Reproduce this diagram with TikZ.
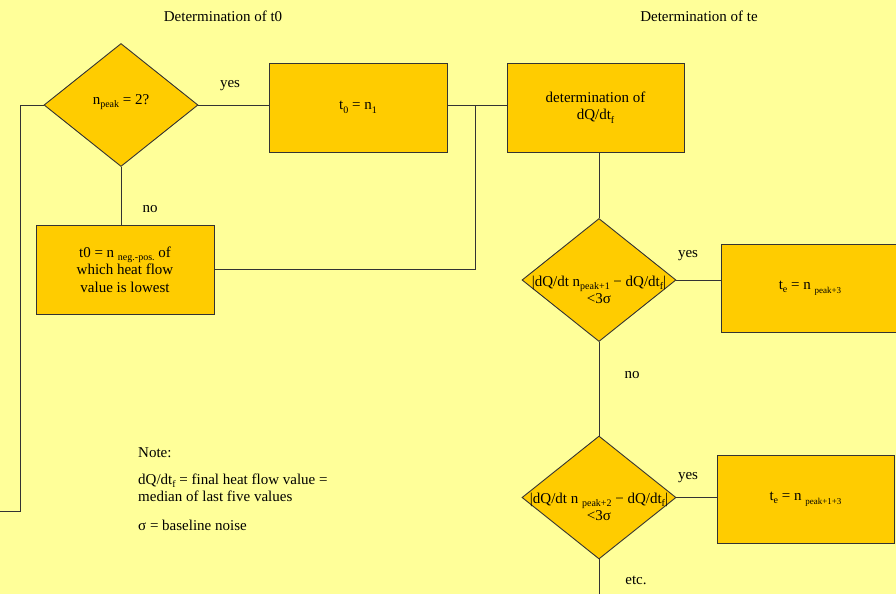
\documentclass[tikz,border=0pt]{standalone}
\usepackage{fontspec}
\setmainfont{Liberation Serif}
\usetikzlibrary{shapes.geometric}
\definecolor{bg}{HTML}{FFFF99}
\definecolor{boxfill}{HTML}{FFCC00}
\definecolor{ln}{HTML}{333333}
\newcommand\lo[1]{\raisebox{-3.5pt}{\fontsize{10}{10}\selectfont #1}}
\newcommand\los[1]{\raisebox{-4pt}{\fontsize{9}{9}\selectfont #1}}
\begin{document}
\begin{tikzpicture}[x=1pt,y=-1pt,
  every node/.style={font=\fontsize{15}{17.5}\selectfont, text=black},
  box/.style={draw=ln, line width=0.9pt, fill=boxfill, minimum width=178pt, minimum height=89pt, inner sep=2pt, align=center},
  dia/.style={diamond, draw=ln, line width=0.9pt, fill=boxfill, minimum width=154pt, minimum height=123pt, inner sep=0pt},
  lbl/.style={inner sep=0pt, align=center},
  conn/.style={draw=ln, line width=0.9pt}]
\fill[bg] (0,0) rectangle (896,594);
\useasboundingbox (0,0) rectangle (896,594);
% titles
\node[lbl] (t1) at (223,16) {Determination of t0};
\node[lbl] (t2) at (699,16) {Determination of te};
% shapes
\node[dia] (d1) at (121,105) {};
\node[lbl] (d1t) at (121,102) {n\lo{peak} = 2?};
\node[box] (b1) at (358,107.5) {t\lo{0} = n\lo{1}};
\node[box, minimum width=177pt] (b2) at (595.5,107.5) {determination of\\ dQ/dt\lo{f}};
\node[box] (b3) at (125,269.5) {t0 = n \lo{neg.-pos.} of\\ which heat flow\\ value is lowest};
\node[dia] (d2) at (599,280) {};
\node[lbl] (d2t) at (599,290) {|dQ/dt n\lo{peak+1} − dQ/dt\lo{f}|\\ <3σ};
\node[box, minimum height=88pt] (b4) at (810,288) {t\lo{e} = n \los{peak+3}};
\node[dia] (d3) at (599,497.5) {};
\node[lbl] (d3t) at (599,507) {|dQ/dt n \lo{peak+2} − dQ/dt\lo{f}|\\ <3σ};
\node[box, minimum width=177pt, minimum height=88pt] (b5) at (805.5,499) {t\lo{e} = n \los{peak+1+3}};
% connector labels
\node[lbl] (y1) at (230,86) {yes};
\node[lbl] (no1) at (150,209) {no};
\node[lbl] (y2) at (688,256) {yes};
\node[lbl] (no2) at (632,375) {no};
\node[lbl] (y3) at (688,478) {yes};
\node[lbl] (etc) at (636,580) {etc.};
% note
\node[lbl, anchor=west] (n1) at (138,453) {Note:};
\node[lbl, anchor=west, align=left] (n2) at (138,488) {dQ/dt\lo{f} = final heat flow value =\\ median of last five values};
\node[lbl, anchor=west] (n3) at (138,525) {σ = baseline noise};
% coordinates
\coordinate (j) at (475,105);
\coordinate (lc) at (20,105);
\coordinate (lp) at (0,511);
\coordinate (bot) at (599,594);
% connectors
\draw[conn] (d1.east) -- (d1.east -| b1.west);
\draw[conn] (b1.east |- d1.east) -- (b2.west |- d1.east);
\draw[conn] (j) |- (b3.east);
\draw[conn] (d1.south) -- (d1.south |- b3.north);
\draw[conn] (d1.west) -- (lc) |- (lp);
\draw[conn] (d2.north |- b2.south) -- (d2.north);
\draw[conn] (d2.east) -- (d2.east -| b4.west);
\draw[conn] (d2.south) -- (d3.north);
\draw[conn] (d3.east) -- (d3.east -| b5.west);
\draw[conn] (d3.south) -- (bot);
\end{tikzpicture}
\end{document}
